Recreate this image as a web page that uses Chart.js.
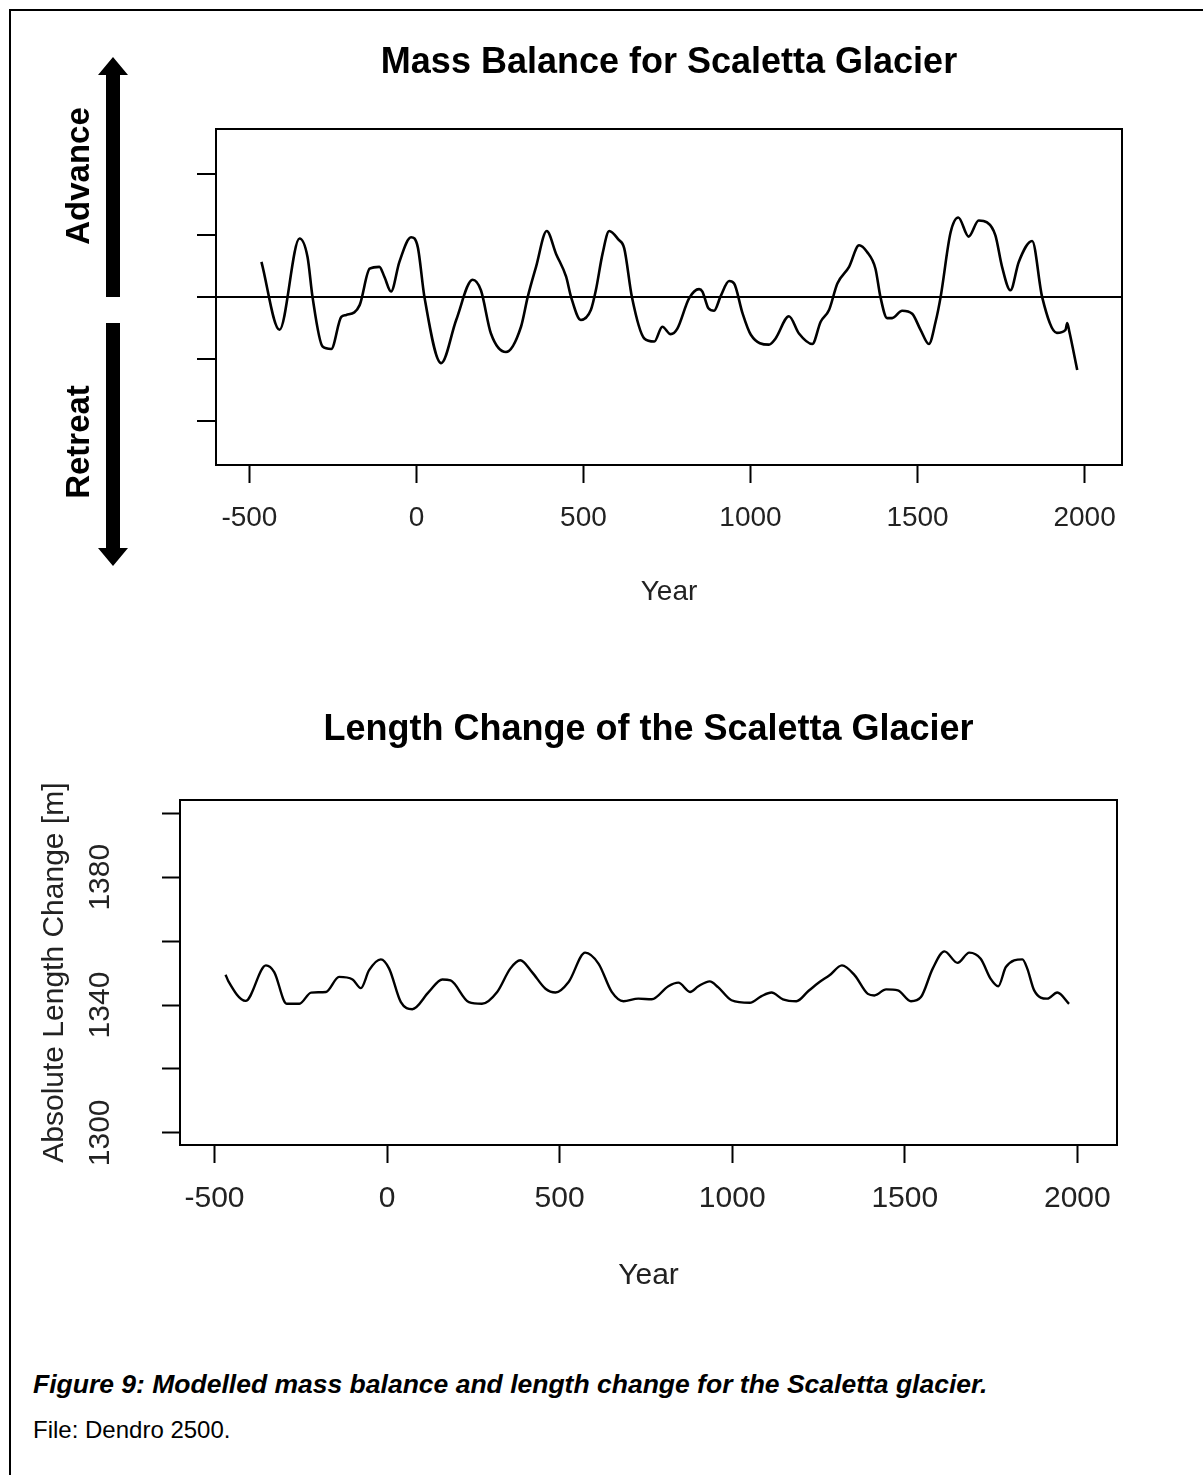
<!DOCTYPE html>
<html>
<head>
<meta charset="utf-8">
<title>Scaletta Glacier</title>
<script src="https://cdn.jsdelivr.net/npm/chart.js@4.4.1/dist/chart.umd.min.js"></script>
<style>
  html, body { margin: 0; padding: 0; background: #fff; }
  body { width: 1203px; height: 1475px; position: relative; overflow: hidden; font-family: 'Liberation Sans', Arial, sans-serif; }
  #frame { position: absolute; left: 9px; top: 9px; width: 1300px; height: 1600px; border-left: 2px solid #000; border-top: 2px solid #000; }
  canvas { position: absolute; left: 0; }
  #massChart { top: 0; }
  #lengthChart { top: 640px; }
  .caption { position: absolute; left: 33px; color: #000; white-space: nowrap; }
  #figCaption { top: 1369px; font-size: 26.5px; line-height: 30px; font-weight: bold; font-style: italic; }
  #fileNote { top: 1416px; font-size: 24px; line-height: 28px; }
</style>
</head>
<body>
<div id="frame"></div>
<canvas id="massChart" width="1203" height="640"></canvas>
<canvas id="lengthChart" width="1203" height="690"></canvas>
<div class="caption" id="figCaption">Figure 9: Modelled mass balance and length change for the Scaletta glacier.</div>
<div class="caption" id="fileNote">File: Dendro 2500.</div>
<script>
// Valores
const xTickValues = [-500, 0, 500, 1000, 1500, 2000];

// Balance de masa (unidades relativas, sin etiquetas en el eje)
const massYears = [-464, -410, -350, -326, -311, -281, -255, -225, -210, -170, -140, -111, -96, -76, -51, -16, 4, 24, 74, 119,
  168, 193, 223, 268, 313, 333, 358, 390, 418, 448, 463, 492, 522, 537, 557, 577, 605, 622, 645, 682,
  712, 736, 761, 781, 816, 846, 856, 874, 891, 911, 936, 951, 976, 1001, 1055, 1075, 1115, 1145, 1185, 1210,
  1235, 1260, 1295, 1325, 1349, 1374, 1389, 1409, 1424, 1454, 1484, 1509, 1534, 1554, 1569, 1599, 1622, 1653, 1683, 1708,
  1733, 1753, 1778, 1803, 1843, 1873, 1917, 1943, 1948, 1954, 1978];
const massValues = [0.57, -0.53, 0.95, 0.65, 0.0, -0.80, -0.84, -0.32, -0.29, -0.13, 0.46, 0.49, 0.33, 0.09, 0.57, 0.97, 0.81, 0.0, -1.07, -0.37,
  0.28, 0.11, -0.59, -0.89, -0.48, 0.0, 0.49, 1.07, 0.70, 0.33, 0.0, -0.37, -0.21, 0.11, 0.70, 1.07, 0.93, 0.79, 0.0, -0.67,
  -0.72, -0.48, -0.60, -0.51, -0.02, 0.13, 0.09, -0.18, -0.22, 0.02, 0.26, 0.22, -0.26, -0.61, -0.77, -0.67, -0.31, -0.59, -0.76, -0.40,
  -0.21, 0.22, 0.49, 0.84, 0.73, 0.46, 0.0, -0.34, -0.34, -0.22, -0.27, -0.53, -0.76, -0.40, 0.0, 1.05, 1.29, 0.98, 1.24, 1.21,
  1.00, 0.49, 0.11, 0.57, 0.91, 0.0, -0.58, -0.53, -0.42, -0.55, -1.18];
const massYTicks = [-2, -1, 0, 1, 2];

// Cambio de longitud absoluto [m]
const lengthYears = [-468, -460, -410, -351, -327, -291, -254, -220, -177, -139, -100, -76, -52, -18, 6, 40, 73, 121, 160, 184,
  237, 275, 319, 357, 386, 420, 459, 488, 526, 574, 613, 651, 685, 728, 767, 815, 844, 878, 902, 935,
  959, 998, 1051, 1085, 1114, 1147, 1186, 1220, 1253, 1282, 1318, 1355, 1393, 1412, 1446, 1480, 1518, 1547, 1581, 1615,
  1653, 1687, 1720, 1749, 1771, 1793, 1841, 1855, 1875, 1913, 1942, 1976];
const lengthValues = [1349.5, 1347.5, 1341.3, 1352.4, 1350.3, 1340.4, 1340.4, 1343.9, 1344.1, 1348.8, 1348.0, 1345.3, 1350.9, 1354.3, 1351.4, 1340.9, 1338.7, 1344.1, 1348.0, 1347.7,
  1340.9, 1340.4, 1344.1, 1351.4, 1354.0, 1350.3, 1345.1, 1343.9, 1347.2, 1356.4, 1352.9, 1344.1, 1341.2, 1342.0, 1341.8, 1345.9, 1347.0, 1344.1, 1345.9, 1347.4,
  1345.6, 1341.5, 1340.7, 1342.8, 1343.9, 1341.8, 1341.2, 1344.3, 1347.2, 1349.3, 1352.4, 1349.3, 1343.5, 1343.0, 1344.9, 1344.6, 1341.2, 1342.5, 1351.4, 1356.8,
  1353.2, 1356.4, 1354.5, 1348.2, 1345.9, 1351.9, 1354.3, 1351.4, 1344.6, 1342.0, 1343.9, 1340.4];
const lengthYTicks = [1300, 1320, 1340, 1360, 1380, 1400];
const lengthYTickLabels = [1300, 1340, 1380];

const fontFamily = "'Liberation Sans', Arial, sans-serif";

function toPoints(xs, ys) {
    return xs.map((x, i) => ({ x: x, y: ys[i] }));
}

// Fija los ticks a los valores del gráfico original
function fixedTicks(values) {
    return scale => { scale.ticks = values.map(v => ({ value: v })); };
}

// Ejes sin ticks: sólo dibujan el borde superior / derecho de la caja
function frameAxis(position, axis) {
    return {
        axis: axis,
        position: position,
        display: true,
        grid: { display: false, drawTicks: false },
        ticks: { display: false },
        border: { display: true, color: '#000', width: 2 }
    };
}

// Flechas "Advance" / "Retreat" a la izquierda del primer gráfico
const arrowPlugin = {
    id: 'advanceRetreat',
    afterDraw(chart) {
        const ctx = chart.ctx;
        const cx = 113, shaft = 14, headW = 30, headL = 18;
        const drawArrow = (from, to) => {
            const dir = Math.sign(to - from);
            const base = to - dir * headL;
            ctx.beginPath();
            ctx.moveTo(cx - shaft / 2, from);
            ctx.lineTo(cx - shaft / 2, base);
            ctx.lineTo(cx - headW / 2, base);
            ctx.lineTo(cx, to);
            ctx.lineTo(cx + headW / 2, base);
            ctx.lineTo(cx + shaft / 2, base);
            ctx.lineTo(cx + shaft / 2, from);
            ctx.closePath();
            ctx.fill();
        };
        ctx.save();
        ctx.fillStyle = '#000';
        drawArrow(297, 57);
        drawArrow(323, 566);
        ctx.font = 'bold 33px ' + fontFamily;
        ctx.textAlign = 'center';
        ctx.textBaseline = 'middle';
        [['Advance', 176], ['Retreat', 442]].forEach(([label, y]) => {
            ctx.save();
            ctx.translate(80, y);
            ctx.rotate(-Math.PI / 2);
            ctx.fillText(label, 0, 0);
            ctx.restore();
        });
        ctx.restore();
    }
};

// Etiquetas de año sin separador de miles
const plainLabel = v => String(v);

// Gráfico 1: balance de masa
new Chart(document.getElementById('massChart'), {
    type: 'line',
    data: {
        datasets: [{
            data: toPoints(massYears, massValues),
            borderColor: '#000',
            borderWidth: 2.6,
            pointRadius: 0,
            cubicInterpolationMode: 'monotone',
            fill: false
        }]
    },
    options: {
        responsive: false,
        animation: false,
        layout: { padding: { left: 0, right: 81, top: 0, bottom: 0 } },
        plugins: {
            legend: { display: false },
            tooltip: { enabled: false },
            title: {
                display: true,
                text: 'Mass Balance for Scaletta Glacier',
                fullSize: false,
                color: '#000',
                font: { family: fontFamily, size: 36, weight: 'bold' },
                padding: { top: 41, bottom: 45 }
            }
        },
        scales: {
            x: {
                type: 'linear',
                min: -600,
                max: 2112,
                afterBuildTicks: fixedTicks(xTickValues),
                afterFit: s => { s.height = 175; },
                grid: { drawOnChartArea: false, drawTicks: true, tickLength: 18, tickColor: '#000', tickWidth: 2 },
                border: { display: true, color: '#000', width: 2 },
                ticks: { color: '#222', font: { family: fontFamily, size: 28 }, padding: 18, maxRotation: 0, autoSkip: false, callback: plainLabel },
                title: { display: true, text: 'Year', color: '#222', font: { family: fontFamily, size: 28 }, padding: { top: 0, bottom: 31 } }
            },
            y: {
                type: 'linear',
                min: -2.72,
                max: 2.72,
                afterBuildTicks: fixedTicks(massYTicks),
                afterFit: s => { s.width = 216; },
                grid: {
                    drawOnChartArea: true,
                    color: c => (c.tick && c.tick.value === 0) ? '#000' : 'rgba(0,0,0,0)',
                    lineWidth: 2,
                    tickLength: 19,
                    tickColor: '#000',
                    tickWidth: 2
                },
                border: { display: true, color: '#000', width: 2 },
                ticks: { display: false }
            },
            xTop: frameAxis('top', 'x'),
            yRight: frameAxis('right', 'y')
        }
    },
    plugins: [arrowPlugin]
});

// Gráfico 2: cambio de longitud
new Chart(document.getElementById('lengthChart'), {
    type: 'line',
    data: {
        datasets: [{
            data: toPoints(lengthYears, lengthValues),
            borderColor: '#000',
            borderWidth: 2.4,
            pointRadius: 0,
            cubicInterpolationMode: 'monotone',
            fill: false
        }]
    },
    options: {
        responsive: false,
        animation: false,
        layout: { padding: { left: 0, right: 86, top: 0, bottom: 0 } },
        plugins: {
            legend: { display: false },
            tooltip: { enabled: false },
            title: {
                display: true,
                text: 'Length Change of the Scaletta Glacier',
                fullSize: false,
                color: '#000',
                font: { family: fontFamily, size: 36, weight: 'bold' },
                padding: { top: 68, bottom: 49 }
            }
        },
        scales: {
            x: {
                type: 'linear',
                min: -600,
                max: 2115,
                afterBuildTicks: fixedTicks(xTickValues),
                afterFit: s => { s.height = 185; },
                grid: { drawOnChartArea: false, drawTicks: true, tickLength: 18, tickColor: '#000', tickWidth: 2 },
                border: { display: true, color: '#000', width: 2 },
                ticks: { color: '#222', font: { family: fontFamily, size: 30 }, padding: 18, maxRotation: 0, autoSkip: false, callback: plainLabel },
                title: { display: true, text: 'Year', color: '#222', font: { family: fontFamily, size: 30 }, padding: { top: 0, bottom: 36 } }
            },
            y: {
                type: 'linear',
                min: 1296.2,
                max: 1404.1,
                afterBuildTicks: fixedTicks(lengthYTicks),
                afterFit: s => { s.width = 180; },
                grid: { drawOnChartArea: false, drawTicks: true, tickLength: 18, tickColor: '#000', tickWidth: 2 },
                border: { display: true, color: '#000', width: 2 },
                ticks: {
                    color: '#222',
                    font: { family: fontFamily, size: 30 },
                    minRotation: 90,
                    maxRotation: 90,
                    crossAlign: 'center',
                    padding: 28,
                    autoSkip: false,
                    callback: v => lengthYTickLabels.includes(v) ? String(v) : ''
                },
                title: { display: true, text: 'Absolute Length Change [m]', color: '#222', font: { family: fontFamily, size: 30 }, padding: { top: 37, bottom: 0 } }
            },
            xTop: frameAxis('top', 'x'),
            yRight: frameAxis('right', 'y')
        }
    }
});
</script>
</body>
</html>
